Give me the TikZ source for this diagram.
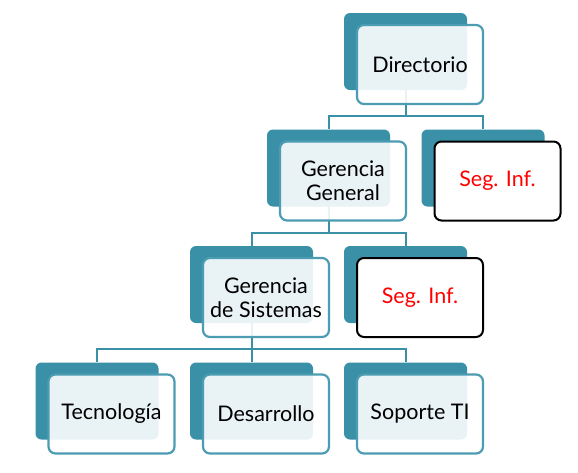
\documentclass[tikz,border=0pt]{standalone}
\usepackage{fontspec}
\setmainfont{Lato}
\usetikzlibrary{backgrounds}
\definecolor{tealback}{HTML}{3A90A6}
\definecolor{tealline}{HTML}{4C9CB3}
\definecolor{segred}{HTML}{FF0000}

\begin{document}
\begin{tikzpicture}[x=1pt,y=-1pt,
    backbox/.style={rectangle,rounded corners=6pt,fill=tealback,
      minimum width=123pt,minimum height=77pt,inner sep=0pt},
    frontbox/.style={rectangle,rounded corners=7pt,draw=tealline,line width=2.2pt,
      fill=white,fill opacity=0.89,text opacity=1,minimum width=126pt,
      minimum height=79pt,inner sep=0pt,align=center,
      font=\fontsize{21.5}{24}\selectfont,shift={(14.5,13)}},
    segbox/.style={frontbox,draw=black,line width=2pt,fill opacity=1,text=segred},
    link/.style={draw=tealback,line width=2pt}]
  % level 0
  \node[backbox] (dirB) at (405.5,51.5) {};
  \node[frontbox] (dirF) at (dirB) {Directorio};
  % level 1
  \node[backbox] (gerGenB) at (328.5,168) {};
  \node[frontbox] (gerGenF) at (gerGenB) {Gerencia\\General};
  \node[backbox] (segOneB) at (483,168) {};
  \node[segbox] (segOneF) at (segOneB) {Seg. Inf.};
  % level 2
  \node[backbox] (gerSisB) at (251.5,284.5) {};
  \node[frontbox] (gerSisF) at (gerSisB) {Gerencia\\de Sistemas};
  \node[backbox] (segTwoB) at (405.5,284.5) {};
  \node[segbox] (segTwoF) at (segTwoB) {Seg. Inf.};
  % level 3
  \node[backbox] (tecB) at (97,401) {};
  \node[frontbox] (tecF) at (tecB) {Tecnología};
  \node[backbox] (desB) at (251.5,401) {};
  \node[frontbox] (desF) at (desB) {Desarrollo};
  \node[backbox] (sopB) at (405.5,401) {};
  \node[frontbox] (sopF) at (sopB) {Soporte TI};
  % connectors
  \begin{scope}[on background layer]
    \fill[white] (0,0) rectangle (578,472);
    \draw[link] (dirB.south) -- ++(0,26) -| (gerGenB.north);
    \draw[link] (dirB.south) -- ++(0,26) -| (segOneB.north);
    \draw[link] (gerGenB.south) -- ++(0,26) -| (gerSisB.north);
    \draw[link] (gerGenB.south) -- ++(0,26) -| (segTwoB.north);
    \draw[link] (gerSisB.south) -- ++(0,26) -| (tecB.north);
    \draw[link] (gerSisB.south) -- ++(0,26) -| (desB.north);
    \draw[link] (gerSisB.south) -- ++(0,26) -| (sopB.north);
  \end{scope}
\end{tikzpicture}
\end{document}
